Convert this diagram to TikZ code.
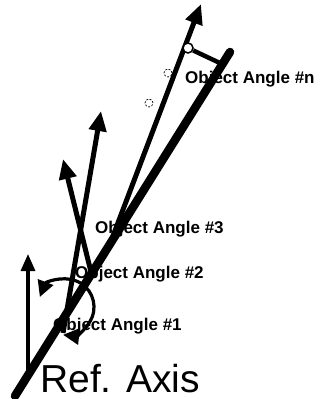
\documentclass[tikz,border=0pt]{standalone}
\usepackage{fontspec}
\setmainfont{Liberation Sans}
\usetikzlibrary{arrows.meta}
\begin{document}
\begin{tikzpicture}[x=1pt,y=-1pt,
  objline/.style={line width=5pt,-{Triangle[length=20pt,width=17pt]}},
  refline/.style={line width=8.5pt,line cap=round},
  vertline/.style={line width=3.2pt,-{Triangle[length=17pt,width=14pt]}},
  anglearc/.style={line width=3.2pt,{Triangle[length=16pt,width=16pt]}-{Triangle[length=16pt,width=16pt]}},
  lbl/.style={font=\bfseries\fontsize{17}{20}\selectfont,anchor=base west,inner sep=0pt},
  dotc/.style={draw,line width=0.7pt,dash pattern=on 2pt off 1.5pt,circle,minimum size=8pt,inner sep=0pt}]
\useasboundingbox (0,0) rectangle (321,399);
% reference line
\coordinate (r0) at (15,396);
\coordinate (r1) at (230,52);
\draw[refline] (r0) -- (r1);
% vertical arrow
\coordinate (v0) at (28,376);
\coordinate (v1) at (28,254);
\draw[vertline] (v0) -- (v1);
% object lines
\coordinate (a0) at (92,276);
\coordinate (a1) at (63,159);
\draw[objline] (a0) -- (a1);
\coordinate (b0) at (63,333);
\coordinate (b1) at (101,111);
\draw[objline] (b0) -- (b1);
\coordinate (n0) at (113,236);
\coordinate (n1) at (201,4);
\draw[objline] (n0) -- (n1);
% angle arc
\coordinate (c) at (66,307);
\draw[anglearc] (c) ++(-159:28) arc[start angle=-159,end angle=96,radius=28];
% perpendicular mark
\node[circle,fill=white,draw,line width=1.5pt,minimum size=10pt,inner sep=0pt] (m) at (188,48) {};
\coordinate (p) at (222,64);
\draw[line width=4.5pt] (m) -- (p);
% dots
\node[dotc] (d1) at (168,73) {};
\node[dotc] (d2) at (149,103) {};
% labels
\node[lbl] (tn) at (185,83) {Object Angle \#n};
\node[lbl] (t3) at (95,233) {Object Angle \#3};
\node[lbl] (t2) at (75,278) {Object Angle \#2};
\node[lbl] (t1) at (53,330) {Object Angle \#1};
\node[font=\fontsize{39}{44}\selectfont,anchor=base west,inner sep=0pt] (ra) at (40,392) {Ref. Axis};
\end{tikzpicture}
\end{document}
